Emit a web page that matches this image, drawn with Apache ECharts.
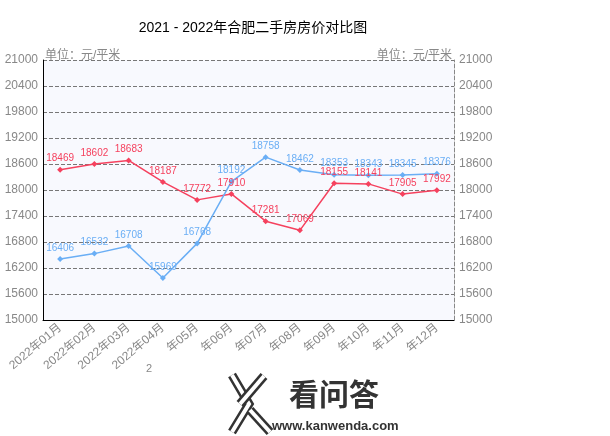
<!DOCTYPE html>
<html><head><meta charset="utf-8">
<script src="https://cdn.jsdelivr.net/npm/echarts@6/dist/echarts.min.js"></script>
<style>html,body{margin:0;padding:0;background:#fff}#c{width:610px;height:436px}</style>
</head><body><div id="c"></div>
<script>
var categories = ['2022年01月','2022年02月','2022年03月','2022年04月','年05月','年06月','年07月','年08月','年09月','年10月','年11月','年12月'];
var series2022 = [18469, 18602, 18683, 18187, 17772, 17910, 17281, 17069, 18155, 18141, 17905, 17992];
var series2021 = [16406, 16532, 16708, 15969, 16768, 18192, 18758, 18462, 18353, 18343, 18345, 18376];
var yTicks = [15000, 15600, 16200, 16800, 17400, 18000, 18600, 19200, 19800, 20400, 21000];
var unitLabel = '单位：元/平米';
var titleText = '2021 - 2022年合肥二手房房价对比图';

var FONT = '"Liberation Sans","Noto Sans CJK SC",sans-serif';
var red = '#f5415e', blue = '#6aaef5';
function yAxisCfg(pos) {
  return {
    type: 'value', position: pos, min: yTicks[0], max: yTicks[yTicks.length-1], interval: 600,
    name: unitLabel, nameLocation: 'end', nameGap: -2,
    nameTextStyle: {color: '#888', fontSize: 12, fontFamily: FONT, align: pos === 'left' ? 'left' : 'right', verticalAlign: 'bottom', padding: pos === 'left' ? [0,0,0,2] : [0,2,0,0]},
    axisLine: {show: true, lineStyle: pos === 'left' ? {color: '#000', width: 1} : {color: '#888', type: 'dashed', width: 1}},
    axisTick: {show: false},
    axisLabel: {color: '#888', fontSize: 12, fontFamily: FONT, margin: 5, formatter: function (v) { return String(v); }},
    splitLine: {show: pos === 'left', lineStyle: {color: '#777', type: 'dashed', width: 1}}
  };
}
var chart = echarts.init(document.getElementById('c'));
chart.setOption({
  animation: false,
  title: {text: titleText, left: 248, top: 16, textAlign: 'center', textStyle: {fontSize: 14, fontWeight: 'normal', color: '#000', fontFamily: FONT}},
  grid: {left: 43, right: 156, top: 60, bottom: 116, show: true, backgroundColor: '#f8f9fe', borderWidth: 0},
  xAxis: {
    type: 'category', data: categories, boundaryGap: true,
    axisLine: {lineStyle: {color: '#000', width: 1}},
    axisTick: {alignWithLabel: true, length: 4, lineStyle: {color: '#888'}},
    axisLabel: {rotate: 40, color: '#888', fontSize: 12, fontFamily: FONT, margin: 6, interval: 0}
  },
  yAxis: [yAxisCfg('left'), yAxisCfg('right')],
  series: [
    {type: 'line', data: series2022, symbol: 'diamond', symbolSize: 6,
     itemStyle: {color: red}, lineStyle: {color: red, width: 1.5},
     label: {show: true, position: 'top', distance: 3, color: red, fontSize: 10, fontFamily: FONT}},
    {type: 'line', data: series2021, symbol: 'diamond', symbolSize: 6,
     itemStyle: {color: blue}, lineStyle: {color: blue, width: 1.5},
     label: {show: true, position: 'top', distance: 3, color: blue, fontSize: 10, fontFamily: FONT}}
  ],
  graphic: [
    {type: 'text', left: 146, top: 363, style: {text: '2', fill: '#888', font: '11px ' + FONT}},
    {type: 'polyline', shape: {points: [[232,375],[249,404],[232,432]]}, style: {stroke: '#333', lineWidth: 9, fill: null}},
    {type: 'polyline', shape: {points: [[232,375],[249,404],[232,432]]}, style: {stroke: '#fff', lineWidth: 4, fill: null}},
    {type: 'line', shape: {x1: 264, y1: 376, x2: 240, y2: 404}, style: {stroke: '#333', lineWidth: 9}},
    {type: 'line', shape: {x1: 264, y1: 376, x2: 240, y2: 404}, style: {stroke: '#fff', lineWidth: 4}},
    {type: 'line', shape: {x1: 250, y1: 410, x2: 270, y2: 432}, style: {stroke: '#333', lineWidth: 9}},
    {type: 'line', shape: {x1: 250, y1: 410, x2: 270, y2: 432}, style: {stroke: '#fff', lineWidth: 4}},
    {type: 'text', left: 289, top: 379, style: {text: '看问答', fill: '#333', font: 'bold 30px "Noto Sans CJK SC",sans-serif'}},
    {type: 'text', left: 272, top: 420, style: {text: 'www.kanwenda.com', fill: '#333', font: 'bold 13px ' + FONT}}
  ]
});
</script></body></html>
